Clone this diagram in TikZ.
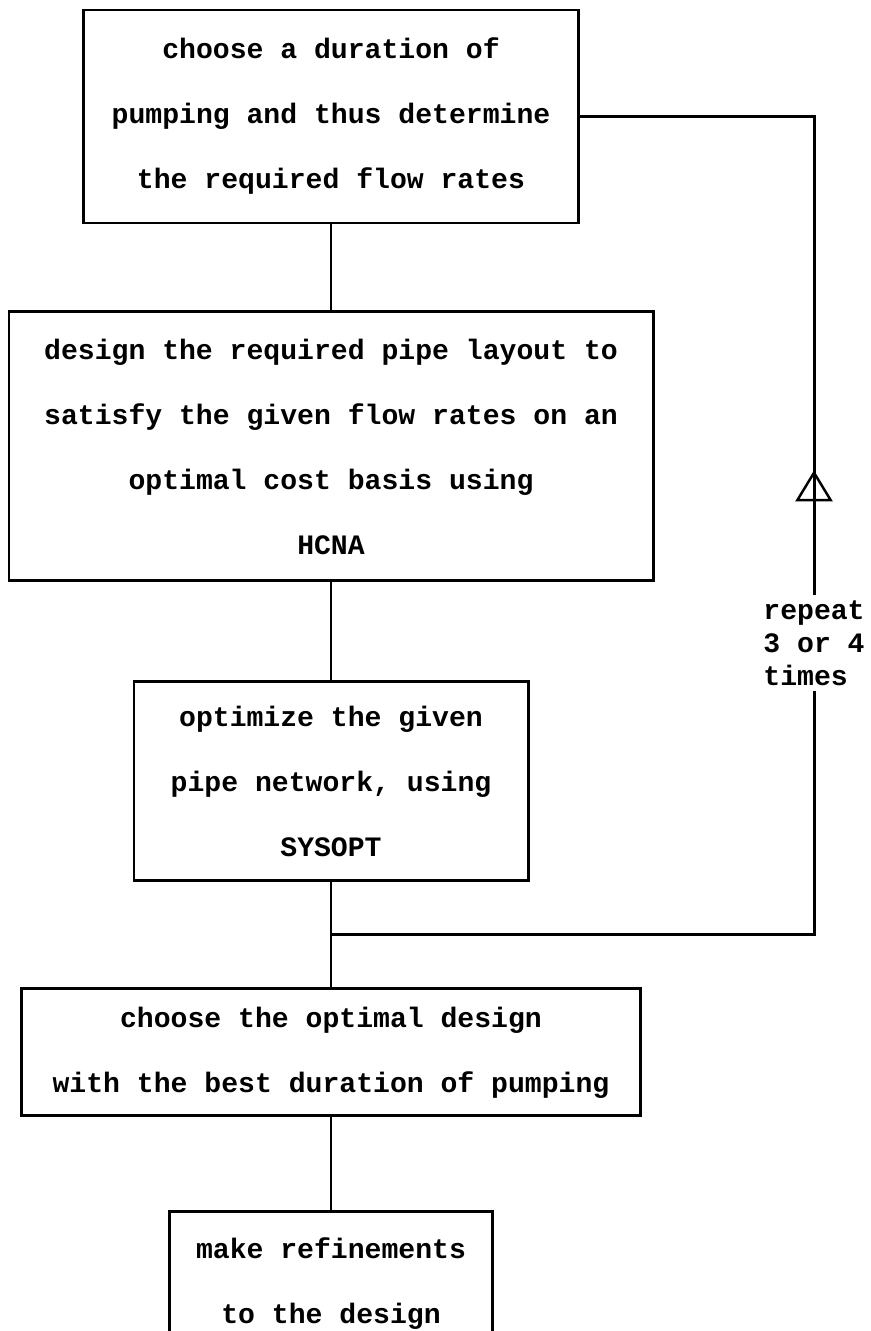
\documentclass[tikz,border=0pt]{standalone}
\usepackage{fontspec}
\setmonofont{Liberation Mono}
\usetikzlibrary{positioning,arrows.meta,decorations.markings}

\begin{document}
\begin{tikzpicture}[
    block/.style={rectangle, draw, line width=1.7pt, align=center, inner sep=0pt,
      font=\ttfamily\bfseries\fontsize{16}{37}\selectfont},
    link/.style={line width=1.7pt},
    uptri/.style={postaction={decorate}, decoration={markings,
      mark=at position 2.5cm with {\arrow[line width=1.4pt]{Triangle[open, length=0.62cm, width=0.74cm]}}}}
  ]
    \useasboundingbox (0,0) rectangle (17.4,-26.62);
    % Nodes
    \node[block, minimum width=9.9cm, minimum height=4.26cm] (dur) at (6.62,-2.33) {choose a duration of\\pumping and thus determine\\the required flow rates};
    \node[block, minimum width=12.88cm, minimum height=5.38cm, below=1.72cm of dur] (hcna) {design the required pipe layout to\\satisfy the given flow rates on an\\optimal cost basis using\\HCNA};
    \node[block, minimum width=7.88cm, minimum height=3.98cm, below=1.96cm of hcna] (opt) {optimize the given\\pipe network, using\\SYSOPT};
    \node[block, minimum width=12.38cm, minimum height=2.54cm, below=2.1cm of opt] (best) {choose the optimal design\\with the best duration of pumping};
    \node[block, minimum width=6.46cm, minimum height=2.86cm, below=1.86cm of best] (refine) {make refinements\\to the design};
    \node[font=\ttfamily\bfseries\fontsize{16}{18.7}\selectfont, align=left, inner sep=0.1cm] (rep) at (16.28,-12.86) {repeat\\3 or 4\\times};
    \coordinate[below=1.04cm of opt] (join);

    % Arrows
    \draw[link] (dur) -- (hcna);
    \draw[link] (hcna) -- (opt);
    \draw[link] (opt) -- (best);
    \draw[link] (best) -- (refine);
    \draw[link] (join) -| (rep.south);
    \draw[link, uptri] (rep.north) |- (dur.east);
\end{tikzpicture}
\end{document}
